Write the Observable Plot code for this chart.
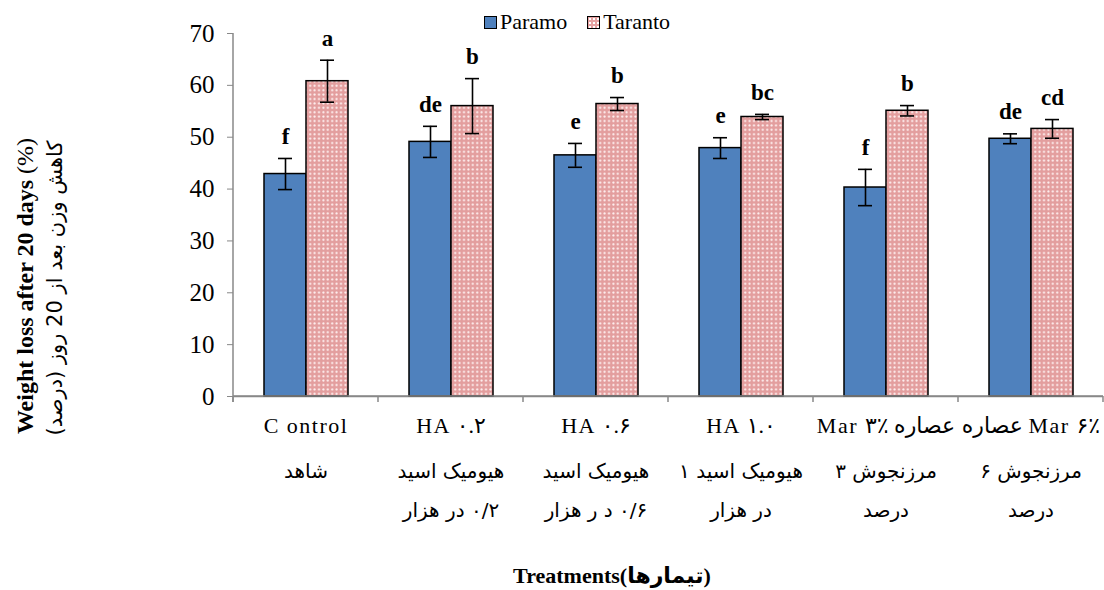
<!DOCTYPE html>
<html><head><meta charset="utf-8">
<script src="https://cdn.jsdelivr.net/npm/d3@7"></script>
<script src="https://cdn.jsdelivr.net/npm/@observablehq/plot@0.6"></script>
<style>
body{margin:0;background:#fff;}
#wrap{position:relative;width:1104px;height:590px;overflow:hidden;font-family:"Liberation Serif","DejaVu Sans",serif;}
#legend{position:absolute;top:9px;left:484px;display:flex;align-items:center;font-size:22px;color:#000;}
#legend .sw{display:inline-block;width:11px;height:11px;border:1.5px solid #000;margin-right:3px;}
#legend .item{display:flex;align-items:center;margin-right:20px;}
.ytitle{position:absolute;width:460px;text-align:center;transform:rotate(-90deg);white-space:nowrap;}
#xtitle{position:absolute;top:563px;left:412px;width:400px;text-align:center;font-weight:bold;font-size:22px;white-space:nowrap;}
svg text.serif{font-family:"Liberation Serif","DejaVu Sans",serif !important;}
svg text.arab{font-family:"DejaVu Sans",sans-serif !important;}
svg text.ytl{font-size:25px !important;}
</style></head>
<body><div id="wrap">
<div id="legend">
  <span class="item"><span class="sw" style="background:#4F81BD"></span>Paramo</span>
  <span class="item"><span class="sw" style="background:#E6A2A2;background-image:radial-gradient(circle,#fff 0.9px,transparent 1.2px);background-size:4px 4px;"></span>Taranto</span>
</div>
<div class="ytitle" style="left:-205px;top:272px;font-size:24px;line-height:28px;"><b>Weight loss after 20 days</b> (%)</div>
<div class="ytitle" style="left:-175px;top:276px;font-family:'DejaVu Sans';font-size:21px;line-height:24px;direction:rtl;">کاهش وزن بعد از 20 روز (درصد)</div>
<div id="xtitle">Treatments(تیمارها)</div>
</div>
<script>
const categories = ["Control","HA0.2","HA0.6","HA1.0","Mar3","Mar6"];
const labelLine1 = ["C ontrol","HA ۰.۲","HA ۰.۶","HA ۱.۰","Mar ۳٪ عصاره","\u202BMar ۶٪ عصاره\u202C"];
const labelLine2 = ["شاهد","هیومیک اسید","هیومیک اسید","هیومیک اسید ۱","مرزنجوش ۳","مرزنجوش ۶"];
const labelLine3 = ["","۰/۲ در هزار","۰/۶ د ر هزار","در هزار","درصد","درصد"];
const series = ["Paramo","Taranto"];
const paramoMean = [42.9,49.1,46.5,47.9,40.3,49.7];
const paramoErr = [3.0,3.0,2.3,2.0,3.5,0.95];
const tarantoMean = [60.8,56.0,56.4,53.9,55.1,51.6];
const tarantoErr = [4.05,5.3,1.25,0.5,1.0,1.8];
const paramoLetters = ["f","de","e","e","f","de"];
const tarantoLetters = ["a","b","b","bc","b","cd"];
const yTicks = [0,10,20,30,40,50,60,70];

const rtl = s => "\u202B" + s + "\u202C";
const data = [];
categories.forEach((c,i) => {
  data.push({cat:c, s:"Paramo", v:paramoMean[i], e:paramoErr[i], L:paramoLetters[i]});
  data.push({cat:c, s:"Taranto", v:tarantoMean[i], e:tarantoErr[i], L:tarantoLetters[i]});
});
const labels = categories.map((c,i)=>({cat:c, l1:labelLine1[i], l2:rtl(labelLine2[i]), l3:labelLine3[i] ? rtl(labelLine3[i]) : ""}));
const labels3 = labels.filter(d => d.l3 !== "");

const plot = Plot.plot({
  width:1104, height:590,
  marginTop:33, marginBottom:194, marginLeft:233, marginRight:1,
  style:{fontFamily:"Liberation Serif, DejaVu Sans, serif", fontSize:"20px", background:"transparent", overflow:"visible"},
  fx:{domain:categories, padding:0, axis:null},
  x:{domain:series, paddingInner:0, paddingOuter:0.726, axis:null},
  y:{domain:[0,70], axis:null},
  marks:[
    Plot.axisY({ticks:yTicks, tickSize:6, tickPadding:13, stroke:"#888", fontSize:25, label:null, tickFormat:d=>String(d)}),
    Plot.ruleY([0], {stroke:"#888", strokeWidth:1.5}),
    Plot.barY(data.filter(d=>d.s==="Paramo"), {fx:"cat", x:"s", y:"v", fill:"#4F81BD", stroke:"#000", strokeWidth:1.5}),
    Plot.barY(data.filter(d=>d.s==="Taranto"), {fx:"cat", x:"s", y:"v", fill:"url(#dotsPat)", stroke:"#000", strokeWidth:1.5}),
    Plot.ruleX(data, {fx:"cat", x:"s", y1:d=>d.v-d.e, y2:d=>d.v+d.e, stroke:"#000", strokeWidth:1.6}),
    Plot.tickY(data, {fx:"cat", x:"s", y:d=>d.v+d.e, stroke:"#000", strokeWidth:1.6, insetLeft:14, insetRight:14}),
    Plot.tickY(data, {fx:"cat", x:"s", y:d=>d.v-d.e, stroke:"#000", strokeWidth:1.6, insetLeft:14, insetRight:14}),
    Plot.text(data, {fx:"cat", x:"s", y:d=>d.v+d.e, text:"L", dy:-22, fontWeight:"bold", fontSize:23, fill:"#000"}),
    Plot.text(labels, {fx:"cat", text:"l1", frameAnchor:"bottom", dy:36, fontSize:22, fill:"#000"}),
    Plot.text(labels, {fx:"cat", text:"l2", frameAnchor:"bottom", dy:81, fontSize:20, fill:"#000"}),
    Plot.text(labels3, {fx:"cat", text:"l3", frameAnchor:"bottom", dy:120, fontSize:20, fill:"#000"})
  ]
});

const svg = d3.select(plot);
svg.selectAll("text").classed("serif", true);
svg.selectAll("text").filter(function(){ const t = this.textContent; return t.startsWith("\u202B") && !t.includes("Mar"); }).classed("serif", false).classed("arab", true);
svg.selectAll("text").filter(function(){ return /^(C ontrol|HA)/.test(this.textContent) || this.textContent.includes("Mar"); }).style("letter-spacing","1.5px");
svg.selectAll("text").filter(function(){ return /^\d+$/.test(this.textContent.trim()); }).classed("ytl", true);

const defs = svg.insert("defs", ":first-child");
const pat = defs.append("pattern").attr("id","dotsPat").attr("patternUnits","userSpaceOnUse").attr("width",4.4).attr("height",4.4);
pat.append("rect").attr("width",4.4).attr("height",4.4).attr("fill","#E39E9E");
pat.append("circle").attr("cx",2.2).attr("cy",2.2).attr("r",1.05).attr("fill","#FFF3F3");

const fx = plot.scale("fx"), y = plot.scale("y");
const y0 = y.apply(0), y70 = y.apply(70);
const x0 = fx.apply(categories[0]);
const g = svg.append("g").attr("stroke","#888").attr("stroke-width",1.5);
g.append("line").attr("x1",x0).attr("x2",x0).attr("y1",y70).attr("y2",y0+6);
const edges = categories.map(c=>fx.apply(c)).concat([fx.apply(categories[categories.length-1]) + fx.bandwidth]);
edges.forEach(xe => g.append("line").attr("x1",xe).attr("x2",xe).attr("y1",y0).attr("y2",y0+6));
g.append("line").attr("x1",x0).attr("x2",edges[edges.length-1]).attr("y1",y0).attr("y2",y0);

plot.style.position = "absolute"; plot.style.left = "0"; plot.style.top = "0";
document.getElementById("wrap").prepend(plot);
</script>
</body></html>
